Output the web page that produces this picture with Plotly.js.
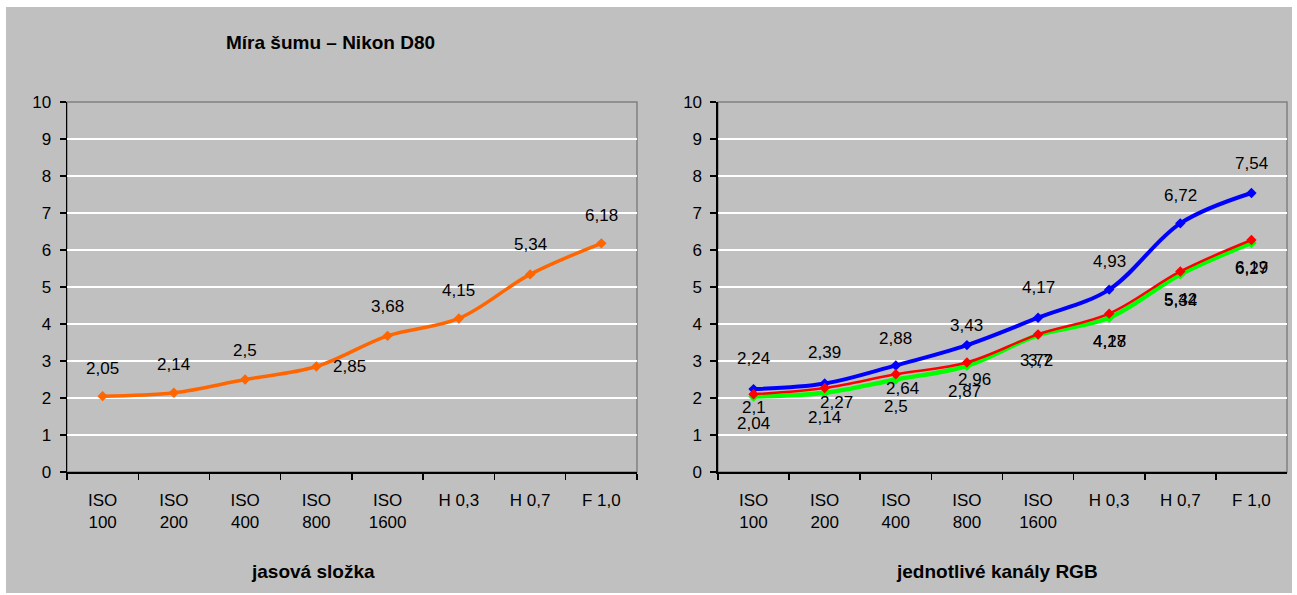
<!DOCTYPE html>
<html><head><meta charset="utf-8">
<script src="https://cdn.plot.ly/plotly-3.0.1.min.js"></script>
<style>
html,body{margin:0;padding:0;background:#ffffff;}
#wrap{position:absolute;left:6px;top:7px;width:1286px;height:586px;background:#C0C0C0;}
#chart{width:1286px;height:586px;}
</style>
</head><body><div id="wrap"><div id="chart"></div></div>
<script>
const categories = ["ISO<br>100","ISO<br>200","ISO<br>400","ISO<br>800","ISO<br>1600","H 0,3","H 0,7","F 1,0"];
const luminance = [2.05, 2.14, 2.5, 2.85, 3.68, 4.15, 5.34, 6.18];
const blueCh = [2.24, 2.39, 2.88, 3.43, 4.17, 4.93, 6.72, 7.54];
const redCh = [2.1, 2.27, 2.64, 2.96, 3.72, 4.28, 5.42, 6.27];
const greenCh = [2.04, 2.14, 2.5, 2.87, 3.7, 4.17, 5.34, 6.19];
const yTicks = [0,1,2,3,4,5,6,7,8,9,10];

// label placement offsets (pixels) - styling only
const lumShiftY = [28,28,29,0,29,28,30,28];
const lumShiftX = [0,0,0,33,0,0,0,0];
const blueShiftY = [31,31,27,20,30,28,28,30];
const redShiftY = [-13,-14,-14,-17,-26,-28,-28,-28];
const redShiftX = [0,12,7,8,-2,0,0,0];
const greenShiftY = [-27,-25,-27,-26,-25,-24,-26,-25];
const greenShiftX = [0,0,0,-2,2,0,0,0];

const fmt = v => String(v).replace('.', ',');
const FONT = 'Liberation Sans, Arial, sans-serif';

function mk(y, color, width, xa, ya) {
  return {
    x: categories, y: y, type: 'scatter', mode: 'lines+markers',
    xaxis: xa, yaxis: ya,
    line: {color: color, width: width, shape: 'spline', smoothing: 1},
    marker: {symbol: 'diamond', size: 8, color: color},
    hoverinfo: 'none', showlegend: false
  };
}

const traces = [
  mk(luminance, '#FF6600', 3.5, 'x', 'y'),
  mk(blueCh, '#0000FF', 4, 'x2', 'y2'),
  mk(greenCh, '#00FF00', 4.5, 'x2', 'y2'),
  mk(redCh, '#FF0000', 2.5, 'x2', 'y2')
];

const annotations = [];
function addLabels(vals, xs, ys, xref, yref) {
  vals.forEach((v, i) => {
    annotations.push({
      x: categories[i], y: v, xref: xref, yref: yref, text: fmt(v), showarrow: false,
      xanchor: 'center', yanchor: 'middle', xshift: xs[i], yshift: ys[i],
      font: {family: FONT, size: 17, color: '#000'}
    });
  });
}
addLabels(luminance, lumShiftX, lumShiftY, 'x', 'y');
addLabels(blueCh, [0,0,0,0,0,0,0,0], blueShiftY, 'x2', 'y2');
addLabels(redCh, redShiftX, redShiftY, 'x2', 'y2');
addLabels(greenCh, greenShiftX, greenShiftY, 'x2', 'y2');

annotations.push({xref:'paper', yref:'paper', x:0.2156, y:1.162, text:'<b>Míra šumu – Nikon D80</b>', showarrow:false, xanchor:'center', yanchor:'middle', font:{family:FONT, size:19, color:'#000'}});
annotations.push({xref:'paper', yref:'paper', x:0.2016, y:-0.270, text:'<b>jasová složka</b>', showarrow:false, xanchor:'center', yanchor:'middle', font:{family:FONT, size:19, color:'#000'}});
annotations.push({xref:'paper', yref:'paper', x:0.7623, y:-0.270, text:'<b>jednotlivé kanály RGB</b>', showarrow:false, xanchor:'center', yanchor:'middle', font:{family:FONT, size:19, color:'#000'}});

function xax(domain, anchor) {
  return {domain: domain, anchor: anchor, type: 'category', range: [-0.5, 7.5],
    showgrid: false, showline: true, linecolor: '#000', linewidth: 1.5,
    ticks: 'outside', tickson: 'boundaries', ticklen: 6, tickcolor: '#000', tickwidth: 1.5,
    ticklabelstandoff: 12,
    tickfont: {family: FONT, size: 17, color: '#000'}, fixedrange: true, zeroline: false};
}
function yax(anchor) {
  return {anchor: anchor, range: [0, 10], tickvals: yTicks, ticktext: yTicks.map(String),
    showgrid: true, gridcolor: '#FFFFFF', gridwidth: 2,
    showline: true, linecolor: '#000', linewidth: 1.5,
    ticks: 'outside', ticklen: 6, tickcolor: '#000', tickwidth: 1.5,
    ticklabelstandoff: 5,
    tickfont: {family: FONT, size: 17, color: '#000'}, zeroline: false, fixedrange: true};
}

const layout = {
  width: 1286, height: 586,
  margin: {l: 61, r: 5, t: 95, b: 121},
  paper_bgcolor: '#C0C0C0', plot_bgcolor: '#C0C0C0',
  xaxis: xax([0, 0.4672], 'y'),
  yaxis: yax('x'),
  xaxis2: xax([0.5336, 1], 'y2'),
  yaxis2: yax('x2'),
  shapes: [
    {type:'rect', xref:'x domain', yref:'y domain', x0:0, x1:1, y0:0, y1:1, line:{color:'#808080', width:1.5}, layer:'below'},
    {type:'rect', xref:'x2 domain', yref:'y2 domain', x0:0, x1:1, y0:0, y1:1, line:{color:'#808080', width:1.5}, layer:'below'}
  ],
  annotations: annotations,
  showlegend: false
};

Plotly.newPlot('chart', traces, layout, {displayModeBar: false, staticPlot: true});
</script>
</body></html>
